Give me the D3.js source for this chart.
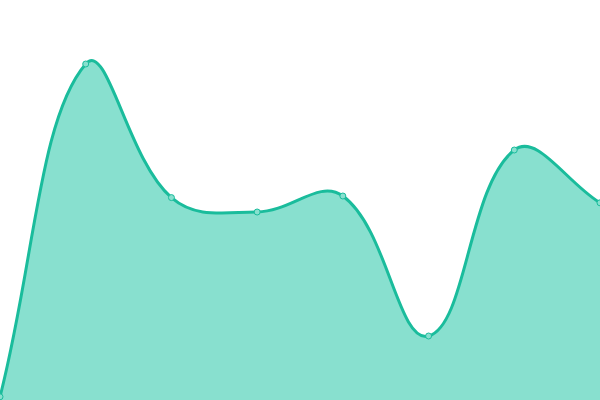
<!DOCTYPE html>
<html><head><meta charset="utf-8">
<script src="https://cdn.jsdelivr.net/npm/d3@7"></script>
<style>html,body{margin:0;padding:0;background:#fff;overflow:hidden}</style>
</head><body>
<svg id="chart" width="600" height="400"></svg>
<script>
const categories = ["A","B","C","D","E","F","G","H"];
const values = [0.8, 84, 50.6, 47, 51, 16, 62.5, 49.3];

const W = 600, H = 400;
const TENSION = 0.4;
const svg = d3.select("#chart");
const x = d3.scalePoint().domain(categories).range([0, W]);
const y = d3.scaleLinear().domain([0, 100]).range([H, 0]);
const data = categories.map((c, i) => ({c, v: values[i]}));

// Custom D3 curve: distance-weighted spline (tension-based control points)
function splineCurve(tension, x0, y0, x1, y1) {
  function Curve(context) { this._context = context; }
  Curve.prototype = {
    areaStart() { this._line = 0; },
    areaEnd() { this._line = NaN; },
    lineStart() { this._pts = []; },
    point(px, py) { this._pts.push([+px, +py]); },
    lineEnd() {
      const p = this._pts, n = p.length, ctx = this._context;
      const clampX = v => Math.max(x0, Math.min(x1, v));
      const clampY = v => Math.max(y0, Math.min(y1, v));
      if (n) {
        if (this._line) ctx.lineTo(p[0][0], p[0][1]); else ctx.moveTo(p[0][0], p[0][1]);
        const cps = p.map((cur, i) => {
          const prev = p[Math.max(i - 1, 0)], next = p[Math.min(i + 1, n - 1)];
          const d01 = Math.hypot(cur[0] - prev[0], cur[1] - prev[1]);
          const d12 = Math.hypot(next[0] - cur[0], next[1] - cur[1]);
          let s01 = d01 / (d01 + d12), s12 = d12 / (d01 + d12);
          if (!isFinite(s01)) s01 = 0;
          if (!isFinite(s12)) s12 = 0;
          const fa = tension * s01, fb = tension * s12;
          return {
            px: clampX(cur[0] - fa * (next[0] - prev[0])),
            py: clampY(cur[1] - fa * (next[1] - prev[1])),
            nx: clampX(cur[0] + fb * (next[0] - prev[0])),
            ny: clampY(cur[1] + fb * (next[1] - prev[1]))
          };
        });
        for (let i = 1; i < n; i++) {
          ctx.bezierCurveTo(cps[i - 1].nx, cps[i - 1].ny, cps[i].px, cps[i].py, p[i][0], p[i][1]);
        }
      }
      if (this._line || (this._line !== 0 && n === 1)) ctx.closePath();
      this._line = 1 - this._line;
    }
  };
  return context => new Curve(context);
}

const curve = splineCurve(TENSION, 0, 0, W, H);
const area = d3.area().x(d => x(d.c)).y0(y(0)).y1(d => y(d.v)).curve(curve);
const line = d3.line().x(d => x(d.c)).y(d => y(d.v)).curve(curve);

svg.append("path").datum(data).attr("d", area).attr("fill", "#88e0cf");
svg.append("path").datum(data).attr("d", line).attr("fill", "none").attr("stroke", "#1abc9c").attr("stroke-width", 3);
svg.selectAll("circle").data(data).join("circle")
  .attr("cx", d => x(d.c)).attr("cy", d => y(d.v)).attr("r", 3)
  .attr("fill", "#88e0cf").attr("stroke", "#1abc9c").attr("stroke-width", 1);
</script>
</body></html>
